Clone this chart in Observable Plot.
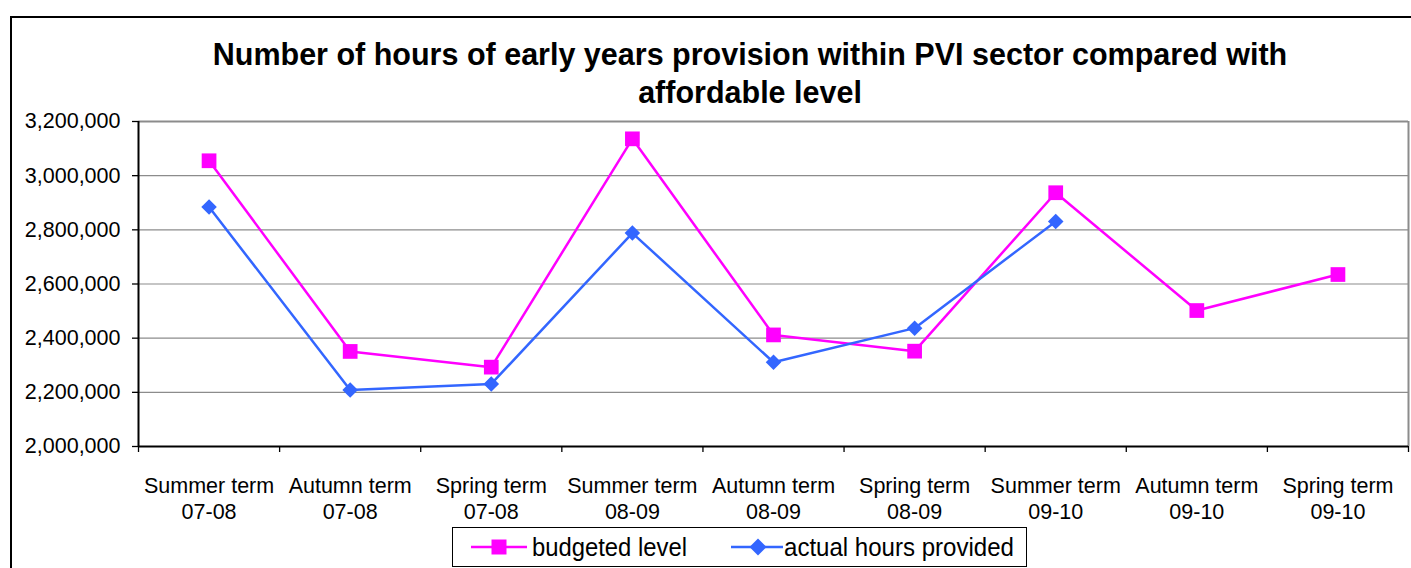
<!DOCTYPE html>
<html>
<head>
<meta charset="utf-8">
<script src="https://cdn.jsdelivr.net/npm/d3@7"></script>
<script src="https://cdn.jsdelivr.net/npm/@observablehq/plot@0.6"></script>
<style>
  html, body { margin: 0; padding: 0; background: #fff; }
  #wrap { position: relative; width: 1411px; height: 568px; overflow: hidden; background: #fff;
          font-family: "Liberation Sans", Arial, sans-serif; }
  #frame { position: absolute; left: 10px; top: 16px; width: 1460px; height: 620px; border: 2px solid #000; box-sizing: border-box; }
  #title { position: absolute; left: 0; width: 1500px; top: 35px; text-align: center;
           font-weight: bold; font-size: 30.5px; line-height: 38px; color: #000; }
  #title div { display: block; }
  #chart { position: absolute; left: 0; top: 0; }
  #legend { position: absolute; left: 452px; top: 527px; width: 575px; height: 40px; box-sizing: border-box;
            border: 1.5px solid #000; background: #fff; font-size: 25px; color: #000; }
  #legend svg { position: absolute; top: 9px; display: block; }
  #legend span { position: absolute; top: 5px; line-height: 28px; white-space: nowrap; transform-origin: left center; }
</style>
</head>
<body>
<div id="wrap">
  <div id="frame"></div>
  <div id="title"><div>Number of hours of early years provision within PVI sector compared with</div><div>affordable level</div></div>
  <div id="chart"></div>
  <div id="legend"></div>
</div>
<script>
const categories = [
  "Summer term\n07-08", "Autumn term\n07-08", "Spring term\n07-08",
  "Summer term\n08-09", "Autumn term\n08-09", "Spring term\n08-09",
  "Summer term\n09-10", "Autumn term\n09-10", "Spring term\n09-10"
];
const budgeted = [3055000, 2351000, 2293000, 3136000, 2412000, 2352000, 2937000, 2502000, 2635000];
const actual = [2884000, 2209000, 2231000, 2788000, 2311000, 2437000, 2831000];
const yTicks = [2000000, 2200000, 2400000, 2600000, 2800000, 3000000, 3200000];
const seriesNames = ["budgeted level", "actual hours provided"];
const colors = ["#FF00FF", "#3366FF"];

const bData = budgeted.map((v, i) => ({i, v}));
const aData = actual.map((v, i) => ({i, v}));
const bounds = d3.range(0, categories.length + 1).map(k => k - 0.5);

const W = 1411, H = 568;
const chart = Plot.plot({
  width: W, height: H,
  marginLeft: 138, marginRight: 3, marginTop: 121, marginBottom: 122,
  style: {background: "transparent", fontFamily: "Liberation Sans, Arial, sans-serif", color: "#000"},
  x: {domain: [-0.5, categories.length - 0.5], label: null},
  y: {domain: [2000000, 3200000], label: null},
  marks: [
    Plot.ruleY(yTicks.slice(1, -1), {stroke: "#8c8c8c", strokeWidth: 1.2}),
    Plot.ruleY([3200000], {stroke: "#8c8c8c", strokeWidth: 2}),
    Plot.ruleX([categories.length - 0.5], {stroke: "#8c8c8c", strokeWidth: 2}),
    Plot.axisY({ticks: yTicks, tickFormat: d3.format(","), tickSize: 6, tickPadding: 12, fontSize: 21.5, stroke: "#000", strokeWidth: 1.3, label: null}),
    Plot.axisX({ticks: bounds, tickFormat: () => "", tickSize: 6, stroke: "#000", strokeWidth: 1.3, label: null}),
    Plot.text(categories, {x: (d, i) => i, y: 2000000, text: d => d, dy: 28, lineAnchor: "top", lineHeight: 1.22, fontSize: 21.5, fill: "#000"}),
    Plot.ruleX([-0.5], {stroke: "#000", strokeWidth: 2}),
    Plot.ruleY([2000000], {stroke: "#000", strokeWidth: 2}),
    Plot.line(bData, {x: "i", y: "v", stroke: colors[0], strokeWidth: 2.5}),
    Plot.line(aData, {x: "i", y: "v", stroke: colors[1], strokeWidth: 2.5}),
    Plot.dot(bData, {x: "i", y: "v", symbol: "square", r: 8.3, fill: colors[0], stroke: "none"}),
    Plot.dot(aData, {x: "i", y: "v", symbol: "diamond2", r: 7, fill: colors[1], stroke: "none"})
  ]
});
document.getElementById("chart").appendChild(chart);

// legend
const legend = document.getElementById("legend");
const svgNS = "http://www.w3.org/2000/svg";
const place = [
  {svgLeft: 18, lineW: 56, mark: 28, textLeft: 79, textW: 155},
  {svgLeft: 278, lineW: 52, mark: 27, textLeft: 331, textW: 230}
];
seriesNames.forEach((name, k) => {
  const P = place[k];
  const s = document.createElementNS(svgNS, "svg");
  s.setAttribute("width", P.lineW); s.setAttribute("height", 20);
  s.style.left = P.svgLeft + "px";
  const ln = document.createElementNS(svgNS, "line");
  ln.setAttribute("x1", 0); ln.setAttribute("x2", P.lineW); ln.setAttribute("y1", 10); ln.setAttribute("y2", 10);
  ln.setAttribute("stroke", colors[k]); ln.setAttribute("stroke-width", 2.5);
  s.appendChild(ln);
  const p = document.createElementNS(svgNS, "path");
  const m = P.mark;
  p.setAttribute("d", k === 0 ? `M${m - 7.5},2.5h15v15h-15z` : `M${m},1.5l8.5,8.5l-8.5,8.5l-8.5,-8.5z`);
  p.setAttribute("fill", colors[k]);
  s.appendChild(p);
  legend.appendChild(s);
  const lab = document.createElement("span");
  lab.textContent = name;
  lab.style.left = P.textLeft + "px";
  legend.appendChild(lab);
  const w = lab.getBoundingClientRect().width;
  lab.style.transform = `scaleX(${P.textW / w})`;
});
</script>
</body>
</html>
